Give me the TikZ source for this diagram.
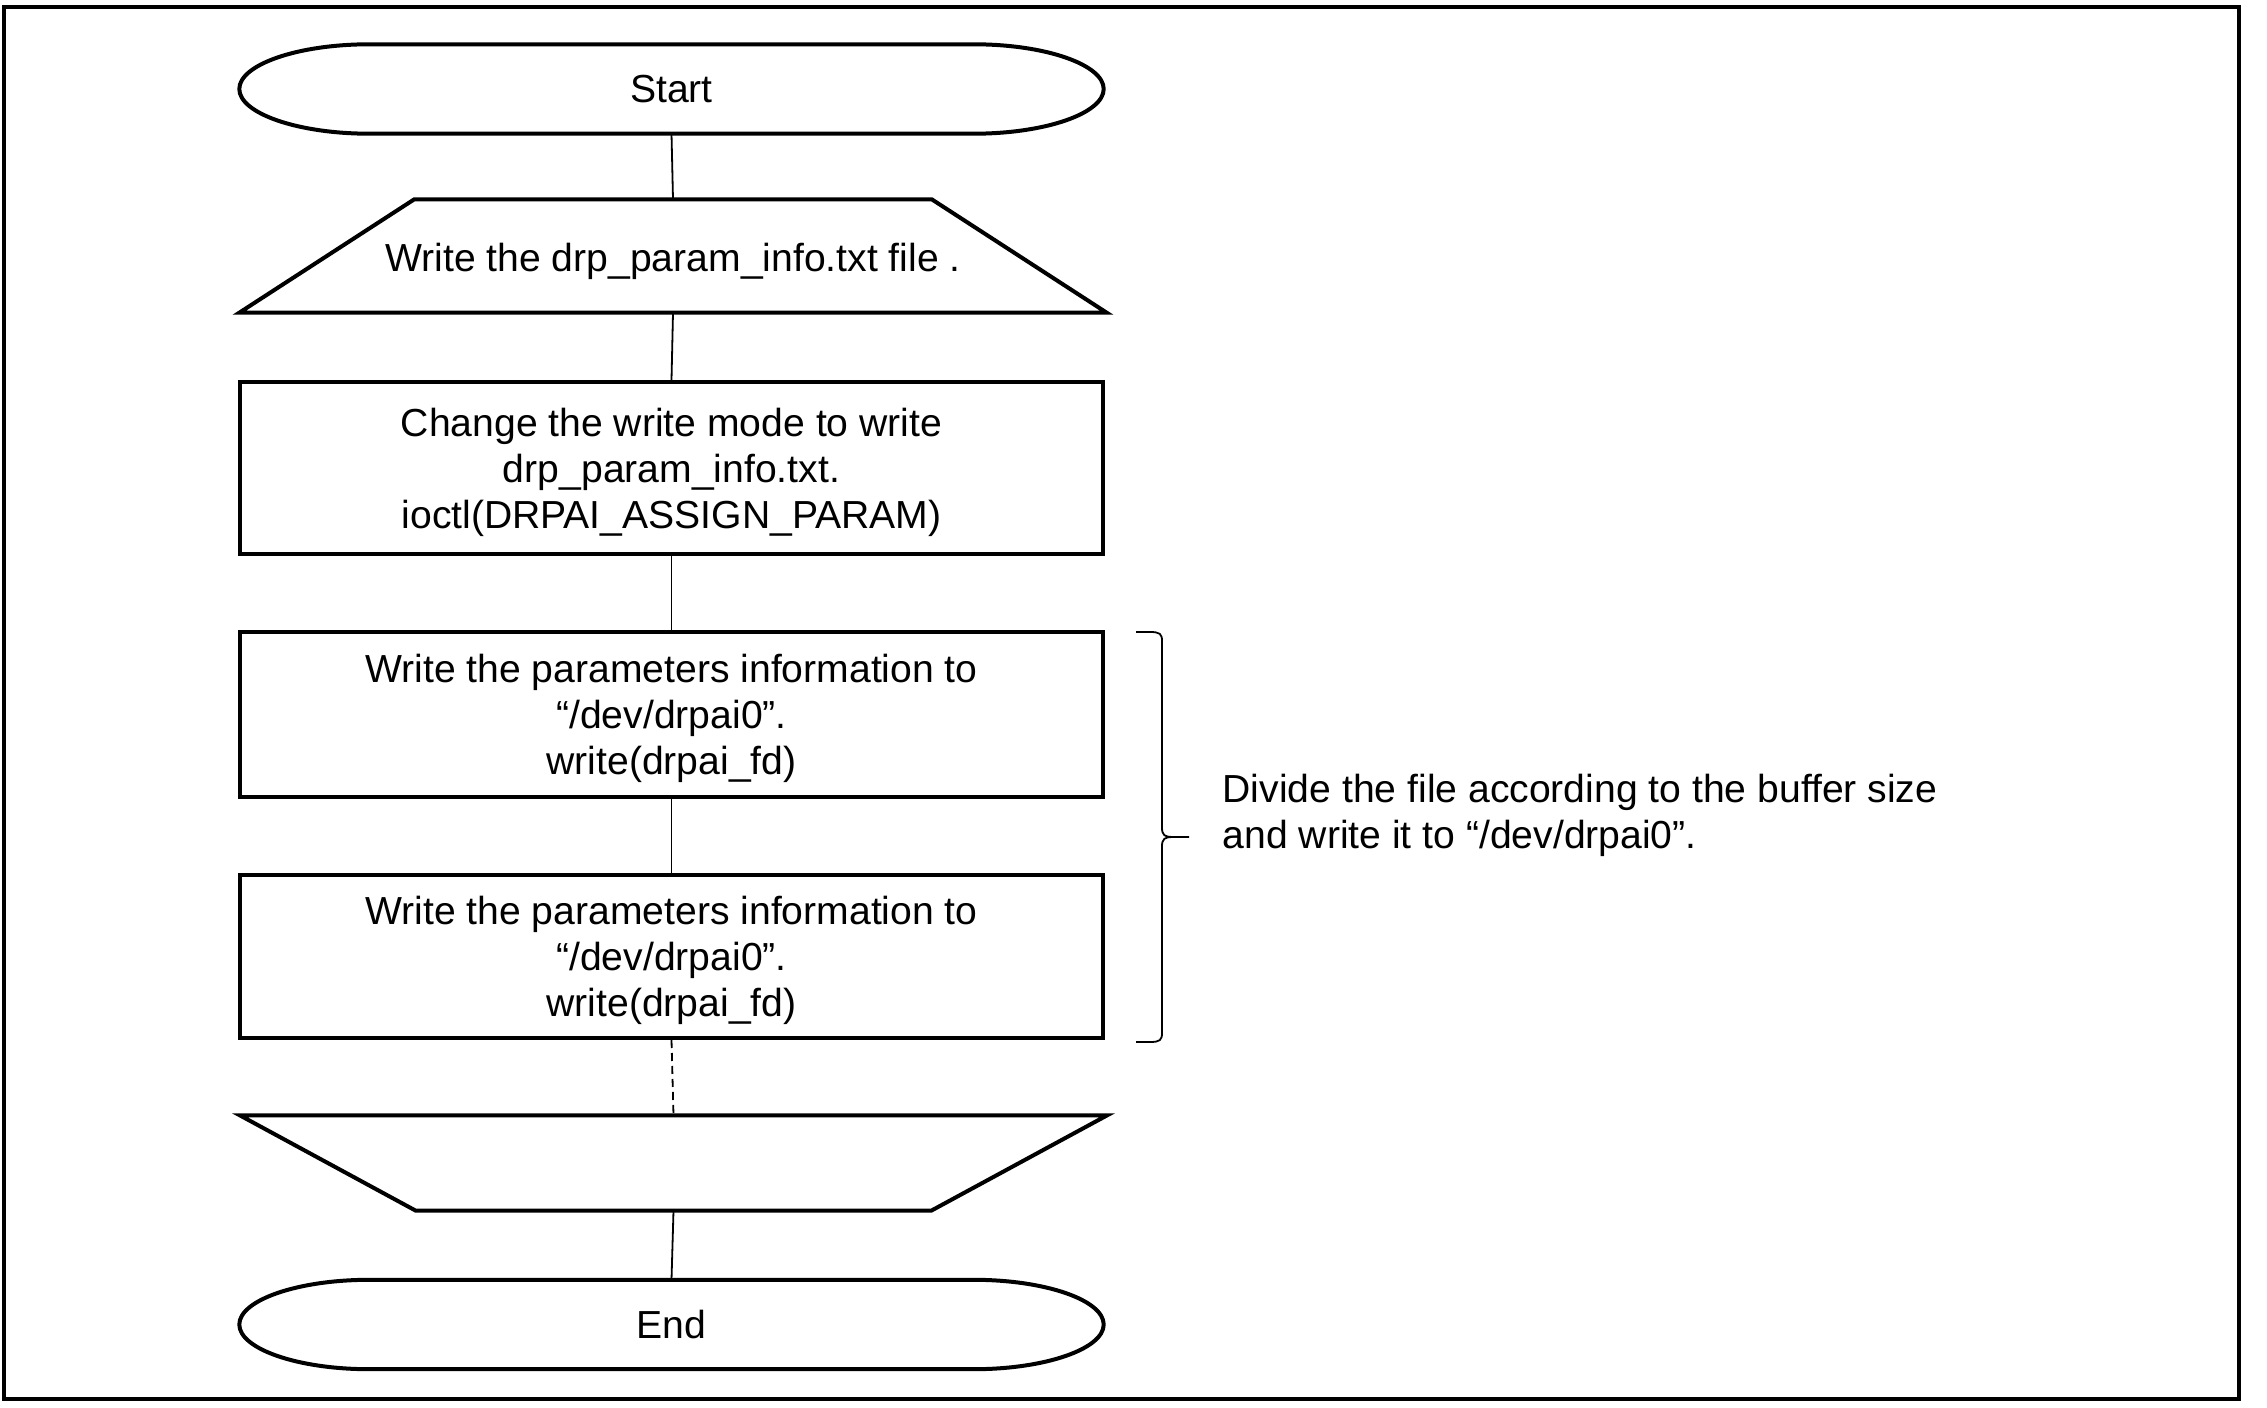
\documentclass[tikz,border=0pt]{standalone}
\usepackage{fontspec}
\setmainfont{Liberation Sans}
\usetikzlibrary{calc}
\tikzset{
  shp/.style={line width=0.4mm, line join=miter},
  conn/.style={line width=0.18mm},
  lbl/.style={font=\fontsize{11.13}{13.1}\selectfont, align=center, inner sep=0pt},
  termnode/.style={lbl, minimum width=86.3mm, minimum height=8.8mm},
  trapnode/.style={lbl, minimum width=86.6mm, minimum height=11.2mm},
  procbox/.style={draw, shp, minimum width=86.3mm, inner sep=0pt},
  frame/.style={line width=0.45mm},
}
\newcommand\termshape[1]{%
  \draw[shp] ($(#1.north west)+(13mm,0)$) -- ($(#1.north east)+(-13mm,0)$)
    .. controls ($(#1.north east)+(-5.82mm,0)$) and ($(#1.east)+(0,2.43mm)$) .. (#1.east)
    .. controls ($(#1.east)+(0,-2.43mm)$) and ($(#1.south east)+(-5.82mm,0)$) .. ($(#1.south east)+(-13mm,0)$)
    -- ($(#1.south west)+(13mm,0)$)
    .. controls ($(#1.south west)+(5.82mm,0)$) and ($(#1.west)+(0,-2.43mm)$) .. (#1.west)
    .. controls ($(#1.west)+(0,2.43mm)$) and ($(#1.north west)+(5.82mm,0)$) .. cycle;}
\begin{document}
\begin{tikzpicture}[x=0.1mm,y=-0.1mm]
\useasboundingbox (0,0) rectangle (2267,1408);
\draw[frame] (4,7) rectangle (2239,1399);

% nodes
\node[termnode] (start) at (671.5,89) {Start};
\node[trapnode] (in1) at (673,256) {};
\node[lbl] (in1t) at ($(in1)+(0,5)$) {Write the drp\_param\_info.txt file .};
\node[procbox, minimum height=17.2mm] (box1) at (671.5,468) {};
\node[lbl] (box1t) at ($(box1)+(0,4)$)
  {Change the write mode to write\\drp\_param\_info.txt.\\ioctl(DRPAI\_ASSIGN\_PARAM)};
\node[procbox, minimum height=16.5mm] (box2) at (671.5,714.5) {};
\node[lbl] (box2t) at ($(box2)+(0,4)$)
  {Write the parameters information to\\“/dev/drpai0”.\\write(drpai\_fd)};
\node[procbox, minimum height=16.3mm] (box3) at (671.5,956.5) {};
\node[lbl] (box3t) at ($(box3)+(0,4)$)
  {Write the parameters information to\\“/dev/drpai0”.\\write(drpai\_fd)};
\node[trapnode, minimum height=9.4mm] (out1) at (673.5,1163) {};
\node[termnode] (end) at (671.5,1324.5) {End};

% shapes
\termshape{start}
\termshape{end}
\draw[shp] (in1.south west) -- (in1.south east) -- ($(in1.north east)+(-17.5mm,0)$)
  -- ($(in1.north west)+(17.5mm,0)$) -- cycle;
\draw[shp] (out1.north west) -- (out1.north east) -- ($(out1.south east)+(-17.6mm,0)$)
  -- ($(out1.south west)+(17.6mm,0)$) -- cycle;

% connectors
\draw[conn] (start.south) -- (in1.north);
\draw[conn] (in1.south) -- (box1.north);
\draw[conn] (box1.south) -- (box2.north);
\draw[conn] (box2.south) -- (box3.north);
\draw[conn, dash pattern=on 0.8mm off 0.5mm] (box3.south) -- (out1.north);
\draw[conn] (out1.south) -- (end.north);

% brace
\coordinate (bracetip) at (1189,837);
\draw[conn] (1136,632) -- (1150,632) .. controls (1160,632) and (1162,634) .. (1162,641)
  -- (1162,828) .. controls (1162,835) and (1165,837) .. (1172,837) -- (bracetip);
\draw[conn] (1136,1042) -- (1150,1042) .. controls (1160,1042) and (1162,1040) .. (1162,1033)
  -- (1162,846) .. controls (1162,839) and (1165,837) .. (1172,837);
\node[lbl, align=left, anchor=west] (note) at (1222,815)
  {Divide the file according to the buffer size\\and write it to “/dev/drpai0”.};
\end{tikzpicture}
\end{document}
